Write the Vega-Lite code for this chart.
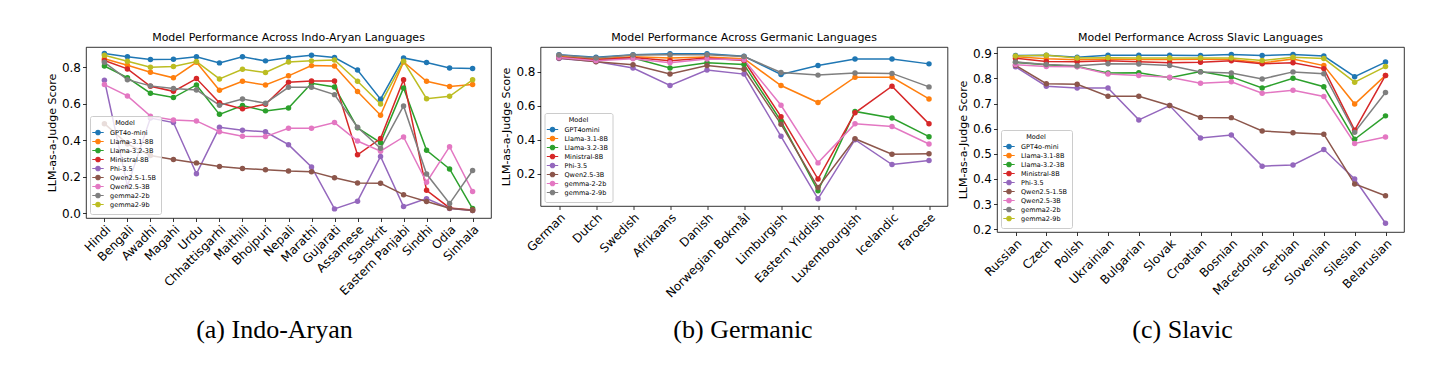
{
  "$schema": "https://vega.github.io/schema/vega-lite/v6.json",
  "background": "white",
  "padding": {"left": 46, "top": 31, "right": 5, "bottom": 5},
  "bounds": "flush",
  "spacing": 49.5,
  "datasets": {
    "ia": [
      {"lang":"Hindi","model":"GPT4o-mini","score":0.875},{"lang":"Bengali","model":"GPT4o-mini","score":0.857},{"lang":"Awadhi","model":"GPT4o-mini","score":0.842},{"lang":"Magahi","model":"GPT4o-mini","score":0.844},{"lang":"Urdu","model":"GPT4o-mini","score":0.857},{"lang":"Chhattisgarhi","model":"GPT4o-mini","score":0.824},{"lang":"Maithili","model":"GPT4o-mini","score":0.857},{"lang":"Bhojpuri","model":"GPT4o-mini","score":0.835},{"lang":"Nepali","model":"GPT4o-mini","score":0.853},{"lang":"Marathi","model":"GPT4o-mini","score":0.866},{"lang":"Gujarati","model":"GPT4o-mini","score":0.853},{"lang":"Assamese","model":"GPT4o-mini","score":0.785},{"lang":"Sanskrit","model":"GPT4o-mini","score":0.625},{"lang":"Eastern Panjabi","model":"GPT4o-mini","score":0.851},{"lang":"Sindhi","model":"GPT4o-mini","score":0.826},{"lang":"Odia","model":"GPT4o-mini","score":0.796},{"lang":"Sinhala","model":"GPT4o-mini","score":0.793},
      {"lang":"Hindi","model":"Llama-3.1-8B","score":0.847},{"lang":"Bengali","model":"Llama-3.1-8B","score":0.811},{"lang":"Awadhi","model":"Llama-3.1-8B","score":0.773},{"lang":"Magahi","model":"Llama-3.1-8B","score":0.742},{"lang":"Urdu","model":"Llama-3.1-8B","score":0.827},{"lang":"Chhattisgarhi","model":"Llama-3.1-8B","score":0.674},{"lang":"Maithili","model":"Llama-3.1-8B","score":0.723},{"lang":"Bhojpuri","model":"Llama-3.1-8B","score":0.703},{"lang":"Nepali","model":"Llama-3.1-8B","score":0.753},{"lang":"Marathi","model":"Llama-3.1-8B","score":0.809},{"lang":"Gujarati","model":"Llama-3.1-8B","score":0.807},{"lang":"Assamese","model":"Llama-3.1-8B","score":0.667},{"lang":"Sanskrit","model":"Llama-3.1-8B","score":0.537},{"lang":"Eastern Panjabi","model":"Llama-3.1-8B","score":0.829},{"lang":"Sindhi","model":"Llama-3.1-8B","score":0.723},{"lang":"Odia","model":"Llama-3.1-8B","score":0.694},{"lang":"Sinhala","model":"Llama-3.1-8B","score":0.705},
      {"lang":"Hindi","model":"Llama-3.2-3B","score":0.807},{"lang":"Bengali","model":"Llama-3.2-3B","score":0.743},{"lang":"Awadhi","model":"Llama-3.2-3B","score":0.658},{"lang":"Magahi","model":"Llama-3.2-3B","score":0.634},{"lang":"Urdu","model":"Llama-3.2-3B","score":0.703},{"lang":"Chhattisgarhi","model":"Llama-3.2-3B","score":0.542},{"lang":"Maithili","model":"Llama-3.2-3B","score":0.59},{"lang":"Bhojpuri","model":"Llama-3.2-3B","score":0.561},{"lang":"Nepali","model":"Llama-3.2-3B","score":0.577},{"lang":"Marathi","model":"Llama-3.2-3B","score":0.712},{"lang":"Gujarati","model":"Llama-3.2-3B","score":0.692},{"lang":"Assamese","model":"Llama-3.2-3B","score":0.468},{"lang":"Sanskrit","model":"Llama-3.2-3B","score":0.387},{"lang":"Eastern Panjabi","model":"Llama-3.2-3B","score":0.687},{"lang":"Sindhi","model":"Llama-3.2-3B","score":0.345},{"lang":"Odia","model":"Llama-3.2-3B","score":0.243},{"lang":"Sinhala","model":"Llama-3.2-3B","score":0.026},
      {"lang":"Hindi","model":"Ministral-8B","score":0.837},{"lang":"Bengali","model":"Ministral-8B","score":0.791},{"lang":"Awadhi","model":"Ministral-8B","score":0.696},{"lang":"Magahi","model":"Ministral-8B","score":0.668},{"lang":"Urdu","model":"Ministral-8B","score":0.738},{"lang":"Chhattisgarhi","model":"Ministral-8B","score":0.605},{"lang":"Maithili","model":"Ministral-8B","score":0.572},{"lang":"Bhojpuri","model":"Ministral-8B","score":0.597},{"lang":"Nepali","model":"Ministral-8B","score":0.718},{"lang":"Marathi","model":"Ministral-8B","score":0.725},{"lang":"Gujarati","model":"Ministral-8B","score":0.725},{"lang":"Assamese","model":"Ministral-8B","score":0.32},{"lang":"Sanskrit","model":"Ministral-8B","score":0.409},{"lang":"Eastern Panjabi","model":"Ministral-8B","score":0.732},{"lang":"Sindhi","model":"Ministral-8B","score":0.126},{"lang":"Odia","model":"Ministral-8B","score":0.029},{"lang":"Sinhala","model":"Ministral-8B","score":0.018},
      {"lang":"Hindi","model":"Phi-3.5","score":0.729},{"lang":"Bengali","model":"Phi-3.5","score":0.15},{"lang":"Awadhi","model":"Phi-3.5","score":0.522},{"lang":"Magahi","model":"Phi-3.5","score":0.497},{"lang":"Urdu","model":"Phi-3.5","score":0.216},{"lang":"Chhattisgarhi","model":"Phi-3.5","score":0.471},{"lang":"Maithili","model":"Phi-3.5","score":0.455},{"lang":"Bhojpuri","model":"Phi-3.5","score":0.446},{"lang":"Nepali","model":"Phi-3.5","score":0.376},{"lang":"Marathi","model":"Phi-3.5","score":0.254},{"lang":"Gujarati","model":"Phi-3.5","score":0.024},{"lang":"Assamese","model":"Phi-3.5","score":0.066},{"lang":"Sanskrit","model":"Phi-3.5","score":0.311},{"lang":"Eastern Panjabi","model":"Phi-3.5","score":0.037},{"lang":"Sindhi","model":"Phi-3.5","score":0.08},{"lang":"Odia","model":"Phi-3.5","score":0.026},{"lang":"Sinhala","model":"Phi-3.5","score":0.015},
      {"lang":"Hindi","model":"Qwen2.5-1.5B","score":0.491},{"lang":"Bengali","model":"Qwen2.5-1.5B","score":0.38},{"lang":"Awadhi","model":"Qwen2.5-1.5B","score":0.316},{"lang":"Magahi","model":"Qwen2.5-1.5B","score":0.294},{"lang":"Urdu","model":"Qwen2.5-1.5B","score":0.276},{"lang":"Chhattisgarhi","model":"Qwen2.5-1.5B","score":0.256},{"lang":"Maithili","model":"Qwen2.5-1.5B","score":0.245},{"lang":"Bhojpuri","model":"Qwen2.5-1.5B","score":0.239},{"lang":"Nepali","model":"Qwen2.5-1.5B","score":0.232},{"lang":"Marathi","model":"Qwen2.5-1.5B","score":0.228},{"lang":"Gujarati","model":"Qwen2.5-1.5B","score":0.195},{"lang":"Assamese","model":"Qwen2.5-1.5B","score":0.166},{"lang":"Sanskrit","model":"Qwen2.5-1.5B","score":0.164},{"lang":"Eastern Panjabi","model":"Qwen2.5-1.5B","score":0.102},{"lang":"Sindhi","model":"Qwen2.5-1.5B","score":0.064},{"lang":"Odia","model":"Qwen2.5-1.5B","score":0.027},{"lang":"Sinhala","model":"Qwen2.5-1.5B","score":0.015},
      {"lang":"Hindi","model":"Qwen2.5-3B","score":0.705},{"lang":"Bengali","model":"Qwen2.5-3B","score":0.643},{"lang":"Awadhi","model":"Qwen2.5-3B","score":0.532},{"lang":"Magahi","model":"Qwen2.5-3B","score":0.511},{"lang":"Urdu","model":"Qwen2.5-3B","score":0.506},{"lang":"Chhattisgarhi","model":"Qwen2.5-3B","score":0.447},{"lang":"Maithili","model":"Qwen2.5-3B","score":0.422},{"lang":"Bhojpuri","model":"Qwen2.5-3B","score":0.42},{"lang":"Nepali","model":"Qwen2.5-3B","score":0.466},{"lang":"Marathi","model":"Qwen2.5-3B","score":0.466},{"lang":"Gujarati","model":"Qwen2.5-3B","score":0.497},{"lang":"Assamese","model":"Qwen2.5-3B","score":0.396},{"lang":"Sanskrit","model":"Qwen2.5-3B","score":0.34},{"lang":"Eastern Panjabi","model":"Qwen2.5-3B","score":0.418},{"lang":"Sindhi","model":"Qwen2.5-3B","score":0.17},{"lang":"Odia","model":"Qwen2.5-3B","score":0.365},{"lang":"Sinhala","model":"Qwen2.5-3B","score":0.119},
      {"lang":"Hindi","model":"gemma2-2b","score":0.827},{"lang":"Bengali","model":"gemma2-2b","score":0.732},{"lang":"Awadhi","model":"gemma2-2b","score":0.698},{"lang":"Magahi","model":"gemma2-2b","score":0.683},{"lang":"Urdu","model":"gemma2-2b","score":0.676},{"lang":"Chhattisgarhi","model":"gemma2-2b","score":0.592},{"lang":"Maithili","model":"gemma2-2b","score":0.626},{"lang":"Bhojpuri","model":"gemma2-2b","score":0.603},{"lang":"Nepali","model":"gemma2-2b","score":0.69},{"lang":"Marathi","model":"gemma2-2b","score":0.69},{"lang":"Gujarati","model":"gemma2-2b","score":0.65},{"lang":"Assamese","model":"gemma2-2b","score":0.471},{"lang":"Sanskrit","model":"gemma2-2b","score":0.356},{"lang":"Eastern Panjabi","model":"gemma2-2b","score":0.588},{"lang":"Sindhi","model":"gemma2-2b","score":0.215},{"lang":"Odia","model":"gemma2-2b","score":0.053},{"lang":"Sinhala","model":"gemma2-2b","score":0.234},
      {"lang":"Hindi","model":"gemma2-9b","score":0.866},{"lang":"Bengali","model":"gemma2-9b","score":0.833},{"lang":"Awadhi","model":"gemma2-9b","score":0.8},{"lang":"Magahi","model":"gemma2-9b","score":0.804},{"lang":"Urdu","model":"gemma2-9b","score":0.831},{"lang":"Chhattisgarhi","model":"gemma2-9b","score":0.736},{"lang":"Maithili","model":"gemma2-9b","score":0.789},{"lang":"Bhojpuri","model":"gemma2-9b","score":0.771},{"lang":"Nepali","model":"gemma2-9b","score":0.829},{"lang":"Marathi","model":"gemma2-9b","score":0.835},{"lang":"Gujarati","model":"gemma2-9b","score":0.84},{"lang":"Assamese","model":"gemma2-9b","score":0.723},{"lang":"Sanskrit","model":"gemma2-9b","score":0.599},{"lang":"Eastern Panjabi","model":"gemma2-9b","score":0.833},{"lang":"Sindhi","model":"gemma2-9b","score":0.628},{"lang":"Odia","model":"gemma2-9b","score":0.641},{"lang":"Sinhala","model":"gemma2-9b","score":0.731}
    ],
    "ge": [
      {"lang":"German","model":"GPT4omini","score":0.9},{"lang":"Dutch","model":"GPT4omini","score":0.885},{"lang":"Swedish","model":"GPT4omini","score":0.9},{"lang":"Afrikaans","model":"GPT4omini","score":0.905},{"lang":"Danish","model":"GPT4omini","score":0.905},{"lang":"Norwegian Bokmål","model":"GPT4omini","score":0.891},{"lang":"Limburgish","model":"GPT4omini","score":0.784},{"lang":"Eastern Yiddish","model":"GPT4omini","score":0.836},{"lang":"Luxembourgish","model":"GPT4omini","score":0.875},{"lang":"Icelandic","model":"GPT4omini","score":0.875},{"lang":"Faroese","model":"GPT4omini","score":0.846},
      {"lang":"German","model":"Llama-3.1-8B","score":0.89},{"lang":"Dutch","model":"Llama-3.1-8B","score":0.876},{"lang":"Swedish","model":"Llama-3.1-8B","score":0.888},{"lang":"Afrikaans","model":"Llama-3.1-8B","score":0.88},{"lang":"Danish","model":"Llama-3.1-8B","score":0.887},{"lang":"Norwegian Bokmål","model":"Llama-3.1-8B","score":0.876},{"lang":"Limburgish","model":"Llama-3.1-8B","score":0.719},{"lang":"Eastern Yiddish","model":"Llama-3.1-8B","score":0.619},{"lang":"Luxembourgish","model":"Llama-3.1-8B","score":0.768},{"lang":"Icelandic","model":"Llama-3.1-8B","score":0.767},{"lang":"Faroese","model":"Llama-3.1-8B","score":0.64},
      {"lang":"German","model":"Llama-3.2-3B","score":0.885},{"lang":"Dutch","model":"Llama-3.2-3B","score":0.868},{"lang":"Swedish","model":"Llama-3.2-3B","score":0.88},{"lang":"Afrikaans","model":"Llama-3.2-3B","score":0.822},{"lang":"Danish","model":"Llama-3.2-3B","score":0.852},{"lang":"Norwegian Bokmål","model":"Llama-3.2-3B","score":0.843},{"lang":"Limburgish","model":"Llama-3.2-3B","score":0.51},{"lang":"Eastern Yiddish","model":"Llama-3.2-3B","score":0.101},{"lang":"Luxembourgish","model":"Llama-3.2-3B","score":0.567},{"lang":"Icelandic","model":"Llama-3.2-3B","score":0.528},{"lang":"Faroese","model":"Llama-3.2-3B","score":0.419},
      {"lang":"German","model":"Ministral-8B","score":0.885},{"lang":"Dutch","model":"Ministral-8B","score":0.87},{"lang":"Swedish","model":"Ministral-8B","score":0.883},{"lang":"Afrikaans","model":"Ministral-8B","score":0.865},{"lang":"Danish","model":"Ministral-8B","score":0.88},{"lang":"Norwegian Bokmål","model":"Ministral-8B","score":0.866},{"lang":"Limburgish","model":"Ministral-8B","score":0.536},{"lang":"Eastern Yiddish","model":"Ministral-8B","score":0.17},{"lang":"Luxembourgish","model":"Ministral-8B","score":0.559},{"lang":"Icelandic","model":"Ministral-8B","score":0.715},{"lang":"Faroese","model":"Ministral-8B","score":0.494},
      {"lang":"German","model":"Phi-3.5","score":0.878},{"lang":"Dutch","model":"Phi-3.5","score":0.86},{"lang":"Swedish","model":"Phi-3.5","score":0.822},{"lang":"Afrikaans","model":"Phi-3.5","score":0.719},{"lang":"Danish","model":"Phi-3.5","score":0.81},{"lang":"Norwegian Bokmål","model":"Phi-3.5","score":0.786},{"lang":"Limburgish","model":"Phi-3.5","score":0.421},{"lang":"Eastern Yiddish","model":"Phi-3.5","score":0.054},{"lang":"Luxembourgish","model":"Phi-3.5","score":0.401},{"lang":"Icelandic","model":"Phi-3.5","score":0.255},{"lang":"Faroese","model":"Phi-3.5","score":0.279},
      {"lang":"German","model":"Qwen2.5-3B","score":0.88},{"lang":"Dutch","model":"Qwen2.5-3B","score":0.858},{"lang":"Swedish","model":"Qwen2.5-3B","score":0.841},{"lang":"Afrikaans","model":"Qwen2.5-3B","score":0.786},{"lang":"Danish","model":"Qwen2.5-3B","score":0.836},{"lang":"Norwegian Bokmål","model":"Qwen2.5-3B","score":0.814},{"lang":"Limburgish","model":"Qwen2.5-3B","score":0.492},{"lang":"Eastern Yiddish","model":"Qwen2.5-3B","score":0.121},{"lang":"Luxembourgish","model":"Qwen2.5-3B","score":0.407},{"lang":"Icelandic","model":"Qwen2.5-3B","score":0.316},{"lang":"Faroese","model":"Qwen2.5-3B","score":0.318},
      {"lang":"German","model":"gemma-2-2b","score":0.884},{"lang":"Dutch","model":"gemma-2-2b","score":0.865},{"lang":"Swedish","model":"gemma-2-2b","score":0.876},{"lang":"Afrikaans","model":"gemma-2-2b","score":0.853},{"lang":"Danish","model":"gemma-2-2b","score":0.875},{"lang":"Norwegian Bokmål","model":"gemma-2-2b","score":0.87},{"lang":"Limburgish","model":"gemma-2-2b","score":0.603},{"lang":"Eastern Yiddish","model":"gemma-2-2b","score":0.265},{"lang":"Luxembourgish","model":"gemma-2-2b","score":0.494},{"lang":"Icelandic","model":"gemma-2-2b","score":0.478},{"lang":"Faroese","model":"gemma-2-2b","score":0.376},
      {"lang":"German","model":"gemma-2-9b","score":0.898},{"lang":"Dutch","model":"gemma-2-9b","score":0.88},{"lang":"Swedish","model":"gemma-2-9b","score":0.898},{"lang":"Afrikaans","model":"gemma-2-9b","score":0.9},{"lang":"Danish","model":"gemma-2-9b","score":0.9},{"lang":"Norwegian Bokmål","model":"gemma-2-9b","score":0.889},{"lang":"Limburgish","model":"gemma-2-9b","score":0.796},{"lang":"Eastern Yiddish","model":"gemma-2-9b","score":0.78},{"lang":"Luxembourgish","model":"gemma-2-9b","score":0.792},{"lang":"Icelandic","model":"gemma-2-9b","score":0.79},{"lang":"Faroese","model":"gemma-2-9b","score":0.711}
    ],
    "sl": [
      {"lang":"Russian","model":"GPT4o-mini","score":0.891},{"lang":"Czech","model":"GPT4o-mini","score":0.892},{"lang":"Polish","model":"GPT4o-mini","score":0.884},{"lang":"Ukrainian","model":"GPT4o-mini","score":0.892},{"lang":"Bulgarian","model":"GPT4o-mini","score":0.892},{"lang":"Slovak","model":"GPT4o-mini","score":0.892},{"lang":"Croatian","model":"GPT4o-mini","score":0.891},{"lang":"Bosnian","model":"GPT4o-mini","score":0.895},{"lang":"Macedonian","model":"GPT4o-mini","score":0.891},{"lang":"Serbian","model":"GPT4o-mini","score":0.895},{"lang":"Slovenian","model":"GPT4o-mini","score":0.889},{"lang":"Silesian","model":"GPT4o-mini","score":0.807},{"lang":"Belarusian","model":"GPT4o-mini","score":0.865},
      {"lang":"Russian","model":"Llama-3.1-8B","score":0.886},{"lang":"Czech","model":"Llama-3.1-8B","score":0.878},{"lang":"Polish","model":"Llama-3.1-8B","score":0.874},{"lang":"Ukrainian","model":"Llama-3.1-8B","score":0.877},{"lang":"Bulgarian","model":"Llama-3.1-8B","score":0.875},{"lang":"Slovak","model":"Llama-3.1-8B","score":0.875},{"lang":"Croatian","model":"Llama-3.1-8B","score":0.876},{"lang":"Bosnian","model":"Llama-3.1-8B","score":0.875},{"lang":"Macedonian","model":"Llama-3.1-8B","score":0.862},{"lang":"Serbian","model":"Llama-3.1-8B","score":0.877},{"lang":"Slovenian","model":"Llama-3.1-8B","score":0.851},{"lang":"Silesian","model":"Llama-3.1-8B","score":0.698},{"lang":"Belarusian","model":"Llama-3.1-8B","score":0.812},
      {"lang":"Russian","model":"Llama-3.2-3B","score":0.864},{"lang":"Czech","model":"Llama-3.2-3B","score":0.854},{"lang":"Polish","model":"Llama-3.2-3B","score":0.847},{"lang":"Ukrainian","model":"Llama-3.2-3B","score":0.822},{"lang":"Bulgarian","model":"Llama-3.2-3B","score":0.823},{"lang":"Slovak","model":"Llama-3.2-3B","score":0.803},{"lang":"Croatian","model":"Llama-3.2-3B","score":0.827},{"lang":"Bosnian","model":"Llama-3.2-3B","score":0.806},{"lang":"Macedonian","model":"Llama-3.2-3B","score":0.762},{"lang":"Serbian","model":"Llama-3.2-3B","score":0.801},{"lang":"Slovenian","model":"Llama-3.2-3B","score":0.767},{"lang":"Silesian","model":"Llama-3.2-3B","score":0.558},{"lang":"Belarusian","model":"Llama-3.2-3B","score":0.651},
      {"lang":"Russian","model":"Ministral-8B","score":0.88},{"lang":"Czech","model":"Ministral-8B","score":0.867},{"lang":"Polish","model":"Ministral-8B","score":0.866},{"lang":"Ukrainian","model":"Ministral-8B","score":0.87},{"lang":"Bulgarian","model":"Ministral-8B","score":0.866},{"lang":"Slovak","model":"Ministral-8B","score":0.862},{"lang":"Croatian","model":"Ministral-8B","score":0.864},{"lang":"Bosnian","model":"Ministral-8B","score":0.87},{"lang":"Macedonian","model":"Ministral-8B","score":0.858},{"lang":"Serbian","model":"Ministral-8B","score":0.862},{"lang":"Slovenian","model":"Ministral-8B","score":0.839},{"lang":"Silesian","model":"Ministral-8B","score":0.594},{"lang":"Belarusian","model":"Ministral-8B","score":0.812},
      {"lang":"Russian","model":"Phi-3.5","score":0.846},{"lang":"Czech","model":"Phi-3.5","score":0.769},{"lang":"Polish","model":"Phi-3.5","score":0.762},{"lang":"Ukrainian","model":"Phi-3.5","score":0.762},{"lang":"Bulgarian","model":"Phi-3.5","score":0.635},{"lang":"Slovak","model":"Phi-3.5","score":0.692},{"lang":"Croatian","model":"Phi-3.5","score":0.563},{"lang":"Bosnian","model":"Phi-3.5","score":0.575},{"lang":"Macedonian","model":"Phi-3.5","score":0.451},{"lang":"Serbian","model":"Phi-3.5","score":0.456},{"lang":"Slovenian","model":"Phi-3.5","score":0.517},{"lang":"Silesian","model":"Phi-3.5","score":0.4},{"lang":"Belarusian","model":"Phi-3.5","score":0.224},
      {"lang":"Russian","model":"Qwen2.5-1.5B","score":0.852},{"lang":"Czech","model":"Qwen2.5-1.5B","score":0.779},{"lang":"Polish","model":"Qwen2.5-1.5B","score":0.777},{"lang":"Ukrainian","model":"Qwen2.5-1.5B","score":0.729},{"lang":"Bulgarian","model":"Qwen2.5-1.5B","score":0.729},{"lang":"Slovak","model":"Qwen2.5-1.5B","score":0.692},{"lang":"Croatian","model":"Qwen2.5-1.5B","score":0.645},{"lang":"Bosnian","model":"Qwen2.5-1.5B","score":0.644},{"lang":"Macedonian","model":"Qwen2.5-1.5B","score":0.591},{"lang":"Serbian","model":"Qwen2.5-1.5B","score":0.584},{"lang":"Slovenian","model":"Qwen2.5-1.5B","score":0.578},{"lang":"Silesian","model":"Qwen2.5-1.5B","score":0.38},{"lang":"Belarusian","model":"Qwen2.5-1.5B","score":0.333},
      {"lang":"Russian","model":"Qwen2.5-3B","score":0.855},{"lang":"Czech","model":"Qwen2.5-3B","score":0.847},{"lang":"Polish","model":"Qwen2.5-3B","score":0.846},{"lang":"Ukrainian","model":"Qwen2.5-3B","score":0.818},{"lang":"Bulgarian","model":"Qwen2.5-3B","score":0.812},{"lang":"Slovak","model":"Qwen2.5-3B","score":0.805},{"lang":"Croatian","model":"Qwen2.5-3B","score":0.781},{"lang":"Bosnian","model":"Qwen2.5-3B","score":0.787},{"lang":"Macedonian","model":"Qwen2.5-3B","score":0.741},{"lang":"Serbian","model":"Qwen2.5-3B","score":0.753},{"lang":"Slovenian","model":"Qwen2.5-3B","score":0.728},{"lang":"Silesian","model":"Qwen2.5-3B","score":0.541},{"lang":"Belarusian","model":"Qwen2.5-3B","score":0.567},
      {"lang":"Russian","model":"gemma2-2b","score":0.865},{"lang":"Czech","model":"gemma2-2b","score":0.855},{"lang":"Polish","model":"gemma2-2b","score":0.85},{"lang":"Ukrainian","model":"gemma2-2b","score":0.858},{"lang":"Bulgarian","model":"gemma2-2b","score":0.857},{"lang":"Slovak","model":"gemma2-2b","score":0.851},{"lang":"Croatian","model":"gemma2-2b","score":0.826},{"lang":"Bosnian","model":"gemma2-2b","score":0.822},{"lang":"Macedonian","model":"gemma2-2b","score":0.798},{"lang":"Serbian","model":"gemma2-2b","score":0.826},{"lang":"Slovenian","model":"gemma2-2b","score":0.819},{"lang":"Silesian","model":"gemma2-2b","score":0.586},{"lang":"Belarusian","model":"gemma2-2b","score":0.744},
      {"lang":"Russian","model":"gemma2-9b","score":0.889},{"lang":"Czech","model":"gemma2-9b","score":0.892},{"lang":"Polish","model":"gemma2-9b","score":0.881},{"lang":"Ukrainian","model":"gemma2-9b","score":0.882},{"lang":"Bulgarian","model":"gemma2-9b","score":0.881},{"lang":"Slovak","model":"gemma2-9b","score":0.881},{"lang":"Croatian","model":"gemma2-9b","score":0.881},{"lang":"Bosnian","model":"gemma2-9b","score":0.881},{"lang":"Macedonian","model":"gemma2-9b","score":0.871},{"lang":"Serbian","model":"gemma2-9b","score":0.884},{"lang":"Slovenian","model":"gemma2-9b","score":0.879},{"lang":"Silesian","model":"gemma2-9b","score":0.785},{"lang":"Belarusian","model":"gemma2-9b","score":0.847}
    ]
  },
  "hconcat": [
    {
      "width": 405, "height": 171,
      "title": "Model Performance Across Indo-Aryan Languages",
      "data": {"name": "ia"},
      "mark": {"type": "line", "strokeWidth": 1.5, "point": {"filled": true, "size": 30}},
      "encoding": {
        "x": {"field": "lang", "type": "nominal", "scale": {"type": "point", "padding": 0.8, "domain": ["Hindi","Bengali","Awadhi","Magahi","Urdu","Chhattisgarhi","Maithili","Bhojpuri","Nepali","Marathi","Gujarati","Assamese","Sanskrit","Eastern Panjabi","Sindhi","Odia","Sinhala"]},
          "axis": {"title": "(a) Indo-Aryan", "titleX": 188, "titleY": 119}},
        "y": {"field": "score", "type": "quantitative", "scale": {"domain": [-0.026, 0.911], "nice": false, "zero": false},
          "axis": {"title": "LLM-as-a-Judge Score", "values": [0, 0.2, 0.4, 0.6, 0.8], "format": ".1f"}},
        "color": {"field": "model", "type": "nominal",
          "scale": {"domain": ["GPT4o-mini","Llama-3.1-8B","Llama-3.2-3B","Ministral-8B","Phi-3.5","Qwen2.5-1.5B","Qwen2.5-3B","gemma2-2b","gemma2-9b"],
            "range": ["#1f77b4","#ff7f0e","#2ca02c","#d62728","#9467bd","#8c564b","#e377c2","#7f7f7f","#bcbd22"]},
          "legend": {"title": "Model", "encode": {"symbols": {"update": {"fill": {"signal": "['#1f77b4','#ff7f0e','#2ca02c','#d62728','#9467bd','#8c564b','#e377c2','#7f7f7f','#bcbd22'][datum.index]"}}}}}}
      }
    },
    {
      "width": 407, "height": 159,
      "title": "Model Performance Across Germanic Languages",
      "data": {"name": "ge"},
      "mark": {"type": "line", "strokeWidth": 1.5, "point": {"filled": true, "size": 30}},
      "encoding": {
        "x": {"field": "lang", "type": "nominal", "scale": {"type": "point", "padding": 0.5, "domain": ["German","Dutch","Swedish","Afrikaans","Danish","Norwegian Bokmål","Limburgish","Eastern Yiddish","Luxembourgish","Icelandic","Faroese"]},
          "axis": {"title": "(b) Germanic", "titleX": 202, "titleY": 131}},
        "y": {"field": "score", "type": "quantitative", "scale": {"domain": [0.012, 0.945], "nice": false, "zero": false},
          "axis": {"title": "LLM-as-a-Judge Score", "values": [0.2, 0.4, 0.6, 0.8], "format": ".1f"}},
        "color": {"field": "model", "type": "nominal",
          "scale": {"domain": ["GPT4omini","Llama-3.1-8B","Llama-3.2-3B","Ministral-8B","Phi-3.5","Qwen2.5-3B","gemma-2-2b","gemma-2-9b"],
            "range": ["#1f77b4","#ff7f0e","#2ca02c","#d62728","#9467bd","#8c564b","#e377c2","#7f7f7f"]},
          "legend": {"title": "Model", "encode": {"symbols": {"update": {"fill": {"signal": "['#1f77b4','#ff7f0e','#2ca02c','#d62728','#9467bd','#8c564b','#e377c2','#7f7f7f','#bcbd22'][datum.index]"}}}}}}
      }
    },
    {
      "width": 407, "height": 185,
      "title": "Model Performance Across Slavic Languages",
      "data": {"name": "sl"},
      "mark": {"type": "line", "strokeWidth": 1.5, "point": {"filled": true, "size": 30}},
      "encoding": {
        "x": {"field": "lang", "type": "nominal", "scale": {"type": "point", "padding": 0.6, "domain": ["Russian","Czech","Polish","Ukrainian","Bulgarian","Slovak","Croatian","Bosnian","Macedonian","Serbian","Slovenian","Silesian","Belarusian"]},
          "axis": {"title": "(c) Slavic", "titleX": 185, "titleY": 105}},
        "y": {"field": "score", "type": "quantitative", "scale": {"domain": [0.189, 0.925], "nice": false, "zero": false},
          "axis": {"title": "LLM-as-a-Judge Score", "values": [0.2, 0.3, 0.4, 0.5, 0.6, 0.7, 0.8, 0.9], "format": ".1f"}},
        "color": {"field": "model", "type": "nominal",
          "scale": {"domain": ["GPT4o-mini","Llama-3.1-8B","Llama-3.2-3B","Ministral-8B","Phi-3.5","Qwen2.5-1.5B","Qwen2.5-3B","gemma2-2b","gemma2-9b"],
            "range": ["#1f77b4","#ff7f0e","#2ca02c","#d62728","#9467bd","#8c564b","#e377c2","#7f7f7f","#bcbd22"]},
          "legend": {"title": "Model", "encode": {"symbols": {"update": {"fill": {"signal": "['#1f77b4','#ff7f0e','#2ca02c','#d62728','#9467bd','#8c564b','#e377c2','#7f7f7f','#bcbd22'][datum.index]"}}}}}}
      }
    }
  ],
  "resolve": {"scale": {"color": "independent", "x": "independent", "y": "independent"}, "legend": {"color": "independent"}},
  "config": {
    "font": "DejaVu Sans",
    "view": {"stroke": "black", "strokeWidth": 0.8},
    "title": {"font": "DejaVu Sans", "fontSize": 11, "fontWeight": "normal", "color": "black", "offset": 0},
    "axis": {"domain": false, "grid": false, "tickColor": "black", "tickSize": 3.5, "tickWidth": 0.8,
      "labelColor": "black", "labelFont": "DejaVu Sans", "labelFontSize": 12, "labelPadding": 2,
      "titleFont": "DejaVu Sans", "titleFontSize": 11, "titleFontWeight": "normal", "titleColor": "black", "titlePadding": 4},
    "axisX": {"labelAngle": -45, "labelAlign": "right", "labelBaseline": "top",
      "titleFont": "Liberation Serif", "titleFontSize": 26, "titleBaseline": "alphabetic", "titleAlign": "center", "titleAnchor": "start"},
    "legend": {"orient": "bottom-left", "offset": 4, "padding": 4, "fillColor": "rgba(255,255,255,0.8)", "strokeColor": "#cccccc", "cornerRadius": 2,
      "titleFontSize": 6.5, "titleFontWeight": "normal", "titleColor": "black", "titleAnchor": "middle", "titlePadding": 2,
      "labelFontSize": 6.5, "labelColor": "black", "labelLimit": 200, "labelOffset": 8,
      "symbolType": "M-1.9,0H1.9M0.75,0A0.75,0.75,0,1,1,-0.75,0A0.75,0.75,0,1,1,0.75,0Z", "symbolSize": 36, "symbolStrokeWidth": 1.2, "rowPadding": -1}
  }
}
